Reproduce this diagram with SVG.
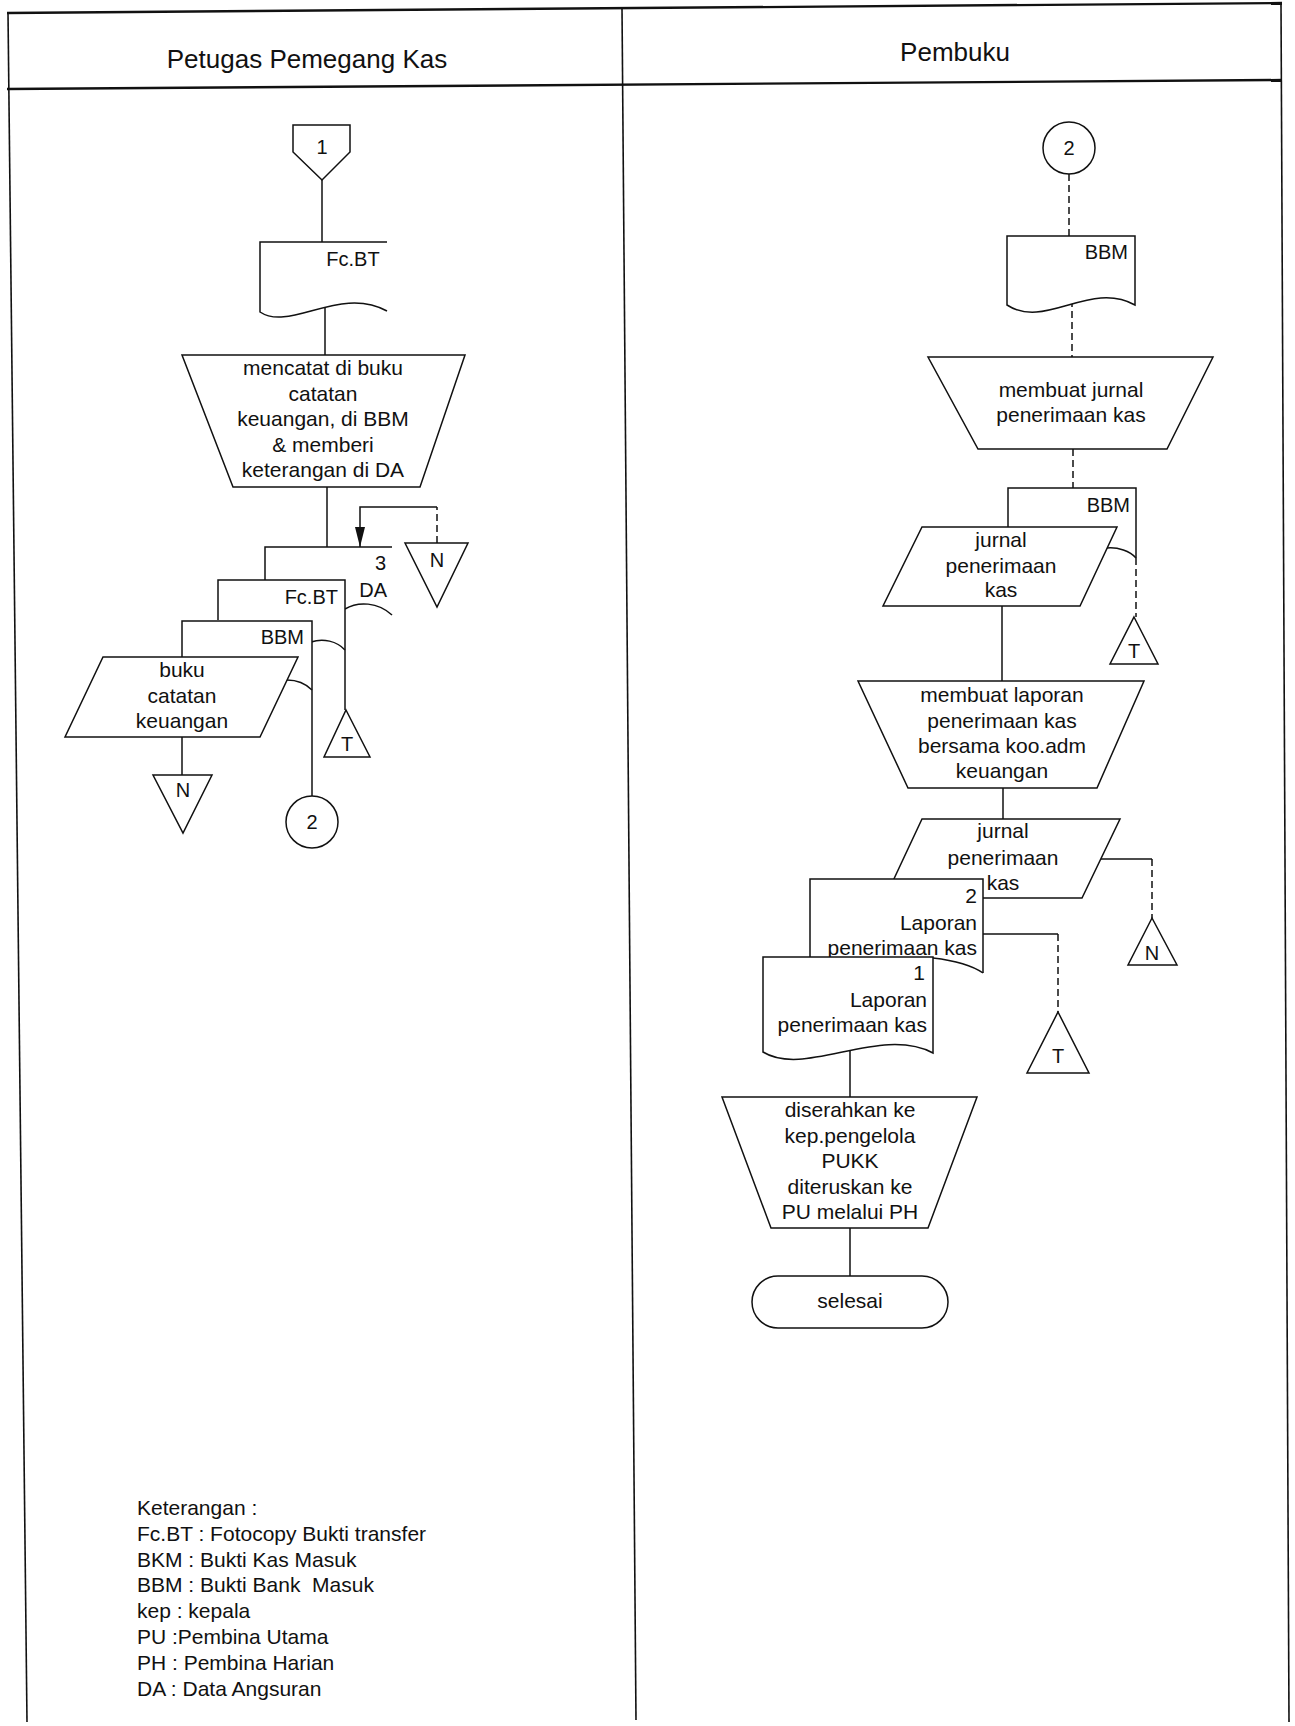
<svg xmlns="http://www.w3.org/2000/svg" width="1295" height="1726" viewBox="0 0 1295 1726">
<defs>
<style>
.frame{fill:none;stroke:#111;stroke-width:1.6}
.hline{fill:none;stroke:#111;stroke-width:2.4}
.sh{fill:#fff;stroke:#111;stroke-width:1.5}
.ed{fill:none;stroke:#111;stroke-width:1.5}
.wf{fill:#fff;stroke:none}
.cn{fill:none;stroke:#111;stroke-width:1.5}
.dz{stroke-dasharray:7 4}
text{font-family:"Liberation Sans",Arial,Helvetica,sans-serif;fill:#111}
.h{font-size:26px;text-anchor:middle}
.c{font-size:21px;text-anchor:middle}
.r{font-size:20px;text-anchor:end}
.r2{font-size:21px;text-anchor:end}
.m{font-size:20px;text-anchor:middle}
.lg{font-size:21px;white-space:pre}
</style>
<marker id="ah" viewBox="0 0 20 10" refX="20" refY="5" markerWidth="20" markerHeight="10" markerUnits="userSpaceOnUse" orient="auto"><path d="M0,0 L20,5 L0,10 Z" fill="#111"/></marker>
</defs>
<rect width="1295" height="1726" fill="#fff"/>

<g id="frame">
<line class="hline" x1="7" y1="13" x2="1282" y2="3"/>
<line class="hline" x1="7" y1="89" x2="1282" y2="80"/>
<line class="frame" x1="8" y1="13" x2="27" y2="1722"/>
<line class="frame" x1="622" y1="8" x2="636" y2="1720"/>
<line class="frame" x1="1281" y1="3" x2="1289" y2="1722"/>
<text class="h" x="307" y="68">Petugas Pemegang Kas</text>
<text class="h" x="955" y="61">Pembuku</text>
</g>

<g id="connectors">
<path class="cn" d="M322,180 V242"/>
<path class="cn" d="M325,295 V355"/>
<path class="cn" d="M327,487 V547"/>
<path class="cn dz" d="M437,543 V507"/>
<path class="cn" d="M437,507 H360 V547" marker-end="url(#ah)"/>
<path class="cn" d="M345,650 V710"/>
<path class="cn" d="M312,690 V796"/>
<path class="cn" d="M182,737 V775"/>
<path class="cn dz" d="M1069,174 V236"/>
<path class="cn dz" d="M1072,300 V357"/>
<path class="cn dz" d="M1073,449 V488"/>
<path class="cn dz" d="M1136,558 V617"/>
<path class="cn" d="M1002,606 V681"/>
<path class="cn" d="M1003,788 V819"/>
<path class="cn" d="M1101,859 H1152"/>
<path class="cn dz" d="M1152,859 V918"/>
<path class="cn" d="M983,934 H1058"/>
<path class="cn dz" d="M1058,934 V1012"/>
<path class="cn" d="M850,1045 V1097"/>
<path class="cn" d="M850,1228 V1276"/>
</g>

<g id="n-start1">
<path class="sh" d="M293,125 H350 V152 L322,180 L293,152 Z"/>
<text class="m" x="322" y="154">1</text>
</g>

<g id="n-doc-fcbt">
<path class="wf" d="M260,242 H387 V311 C340,285 290,332 260,312 Z"/>
<path class="ed" d="M387,242 H260 V312 C290,332 340,285 387,311"/>
<text class="m" x="353" y="266">Fc.BT</text>
</g>

<g id="n-mencatat">
<polygon class="sh" points="182,355 465,355 420,487 233,487"/>
<text class="c" x="323" y="375">mencatat di buku</text>
<text class="c" x="323" y="400.5">catatan</text>
<text class="c" x="323" y="426">keuangan, di BBM</text>
<text class="c" x="323" y="451.5">&amp; memberi</text>
<text class="c" x="323" y="477">keterangan di DA</text>
</g>

<g id="n-doc-da">
<path class="wf" d="M265,547 H392 V615 C378,602 358,601 345,609 H265 Z"/>
<path class="ed" d="M265,580 V547 H392"/>
<path class="ed" d="M345,609 C358,601 378,602 392,615"/>
<text class="r" x="386" y="570">3</text>
<text class="r" x="387" y="597">DA</text>
</g>

<g id="n-doc-fcbt2">
<path class="wf" d="M218,580 H345 V650 C337,641 323,638 311,642 H218 Z"/>
<path class="ed" d="M218,620 V580 H345 V650"/>
<path class="ed" d="M311,642 C323,638 337,641 345,650"/>
<text class="r" x="338" y="604">Fc.BT</text>
</g>

<g id="n-doc-bbm">
<path class="wf" d="M182,621 H312 V690 C306,684 297,680 287,680 H182 Z"/>
<path class="ed" d="M182,657 V621 H312 V690"/>
<path class="ed" d="M287,680 C297,680 306,684 312,690"/>
<text class="r" x="304" y="644">BBM</text>
</g>

<g id="n-buku">
<polygon class="sh" points="103,657 298,657 260,737 65,737"/>
<text class="c" x="182" y="677">buku</text>
<text class="c" x="182" y="703">catatan</text>
<text class="c" x="182" y="728">keuangan</text>
</g>

<g id="n-n-loop">
<polygon class="sh" points="405,543 468,543 437,607"/>
<text class="m" x="437" y="567">N</text>
</g>

<g id="n-t-left">
<polygon class="sh" points="346,710 370,757 324,757"/>
<text class="m" x="347" y="751">T</text>
</g>

<g id="n-n-left">
<polygon class="sh" points="153,775 212,775 183,833"/>
<text class="m" x="183" y="797">N</text>
</g>

<g id="n-conn2-left">
<circle class="sh" cx="312" cy="822" r="26"/>
<text class="m" x="312" y="829">2</text>
</g>

<g id="n-conn2-right">
<circle class="sh" cx="1069" cy="148" r="26"/>
<text class="m" x="1069" y="155">2</text>
</g>

<g id="n-doc-bbm-r">
<path class="sh" d="M1007,236 H1135 V305 C1090,280 1045,330 1007,305 Z"/>
<text class="r" x="1128" y="259">BBM</text>
</g>

<g id="n-jurnal-proc">
<polygon class="sh" points="928,357 1213,357 1167,449 978,449"/>
<text class="c" x="1071" y="397">membuat jurnal</text>
<text class="c" x="1071" y="422">penerimaan kas</text>
</g>

<g id="n-doc-bbm-r2">
<path class="wf" d="M1008,488 H1136 V558 C1130,551 1118,547 1107,548 H1008 Z"/>
<path class="ed" d="M1008,527 V488 H1136 V558"/>
<path class="ed" d="M1107,548 C1118,547 1130,551 1136,558"/>
<text class="r" x="1130" y="512">BBM</text>
</g>

<g id="n-jurnal1">
<polygon class="sh" points="922,527 1117,527 1080,606 883,606"/>
<text class="c" x="1001" y="547">jurnal</text>
<text class="c" x="1001" y="573">penerimaan</text>
<text class="c" x="1001" y="597">kas</text>
</g>

<g id="n-t-r1">
<polygon class="sh" points="1134,617 1158,664 1110,664"/>
<text class="m" x="1134" y="658">T</text>
</g>

<g id="n-laporan-proc">
<polygon class="sh" points="858,681 1144,681 1097,788 908,788"/>
<text class="c" x="1002" y="702">membuat laporan</text>
<text class="c" x="1002" y="728">penerimaan kas</text>
<text class="c" x="1002" y="753">bersama koo.adm</text>
<text class="c" x="1002" y="778">keuangan</text>
</g>

<g id="n-jurnal2">
<polygon class="sh" points="922,819 1120,819 1082,898 885,898"/>
<text class="c" x="1003" y="838">jurnal</text>
<text class="c" x="1003" y="865">penerimaan</text>
<text class="c" x="1003" y="890">kas</text>
</g>

<g id="n-n-r2">
<polygon class="sh" points="1152,918 1177,965 1128,965"/>
<text class="m" x="1152" y="960">N</text>
</g>

<g id="n-lap2">
<path class="wf" d="M810,879 H983 V973 C970,964 950,960 933,958 H810 Z"/>
<path class="ed" d="M810,957 V879 H983 V973"/>
<path class="ed" d="M933,958 C950,960 970,964 983,973"/>
<text class="r2" x="977" y="903">2</text>
<text class="r2" x="977" y="930">Laporan</text>
<text class="r2" x="977" y="955">penerimaan kas</text>
</g>

<g id="n-t-r2">
<polygon class="sh" points="1058,1012 1089,1073 1027,1073"/>
<text class="m" x="1058" y="1063">T</text>
</g>

<g id="n-lap1">
<path class="sh" d="M763,957 H933 V1053 C880,1025 805,1078 763,1052 Z"/>
<text class="r2" x="925" y="980">1</text>
<text class="r2" x="927" y="1007">Laporan</text>
<text class="r2" x="927" y="1032">penerimaan kas</text>
</g>

<g id="n-serah">
<polygon class="sh" points="722,1097 977,1097 928,1228 771,1228"/>
<text class="c" x="850" y="1117">diserahkan ke</text>
<text class="c" x="850" y="1143">kep.pengelola</text>
<text class="c" x="850" y="1168">PUKK</text>
<text class="c" x="850" y="1194">diteruskan ke</text>
<text class="c" x="850" y="1219">PU melalui PH</text>
</g>

<g id="n-selesai">
<rect class="sh" x="752" y="1276" width="196" height="52" rx="26" ry="26"/>
<text class="c" x="850" y="1308">selesai</text>
</g>

<g id="legend">
<text class="lg" x="137" y="1515">Keterangan :</text>
<text class="lg" x="137" y="1541">Fc.BT : Fotocopy Bukti transfer</text>
<text class="lg" x="137" y="1567">BKM : Bukti Kas Masuk</text>
<text class="lg" x="137" y="1592">BBM : Bukti Bank  Masuk</text>
<text class="lg" x="137" y="1618">kep : kepala</text>
<text class="lg" x="137" y="1644">PU :Pembina Utama</text>
<text class="lg" x="137" y="1670">PH : Pembina Harian</text>
<text class="lg" x="137" y="1696">DA : Data Angsuran</text>
</g>
</svg>
